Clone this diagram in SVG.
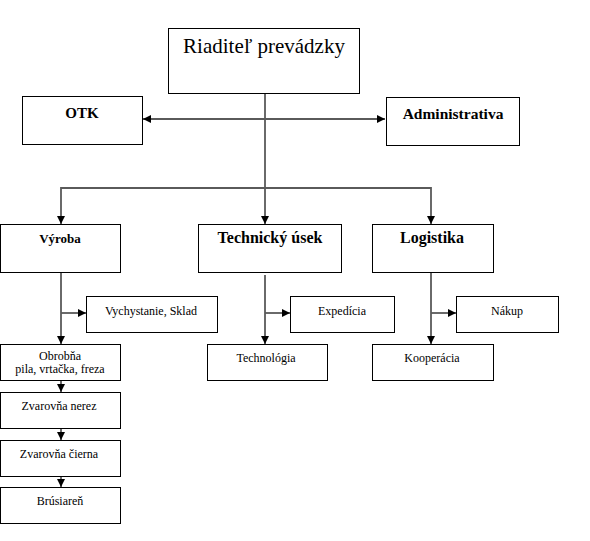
<svg xmlns="http://www.w3.org/2000/svg" width="590" height="541" viewBox="0 0 590 541" font-family="Liberation Serif, serif">
<style>
.box{fill:#fff;stroke:#000;stroke-width:1}
.t{fill:#000;text-anchor:middle}
.b{font-weight:bold}
.s{font-size:12px}
.c{fill:none;stroke:#5a5a5a;stroke-width:1.8}
</style>
<defs>
<marker id="ah" markerUnits="userSpaceOnUse" markerWidth="8" markerHeight="8" refX="8" refY="4" orient="auto-start-reverse">
<path d="M0,0 L8,4 L0,8 z" fill="#000"/>
</marker>
</defs>
<rect width="590" height="541" fill="#fff"/>
<g id="connectors">
<line class="c" x1="265" y1="93" x2="265" y2="224" marker-end="url(#ah)"/>
<line class="c" x1="143" y1="119" x2="385" y2="119" marker-start="url(#ah)" marker-end="url(#ah)"/>
<polyline class="c" points="61,224 61,188 431,188 431,224" marker-start="url(#ah)" marker-end="url(#ah)"/>
<line class="c" x1="61" y1="272" x2="61" y2="344" marker-end="url(#ah)"/>
<line class="c" x1="61" y1="313" x2="86" y2="313" marker-end="url(#ah)"/>
<line class="c" x1="61" y1="380" x2="61" y2="392" marker-end="url(#ah)"/>
<line class="c" x1="61" y1="428" x2="61" y2="440" marker-end="url(#ah)"/>
<line class="c" x1="61" y1="476" x2="61" y2="487" marker-end="url(#ah)"/>
<line class="c" x1="265" y1="275" x2="265" y2="344" marker-end="url(#ah)"/>
<line class="c" x1="265" y1="313" x2="290" y2="313" marker-end="url(#ah)"/>
<line class="c" x1="431" y1="272" x2="431" y2="344" marker-end="url(#ah)"/>
<line class="c" x1="431" y1="313" x2="456" y2="313" marker-end="url(#ah)"/>
</g>
<g id="riaditel"><rect class="box" x="168.5" y="28.5" width="191" height="65"/><text class="t" x="264" y="53" font-size="21" font-family="Liberation Serif, serif">Riaditeľ prevádzky</text></g>
<g id="otk"><rect class="box" x="22.5" y="96.5" width="120" height="48"/><text class="t b" x="82" y="118" font-size="15" font-family="Liberation Serif, serif">OTK</text></g>
<g id="administrativa"><rect class="box" x="386.5" y="97.5" width="133" height="48"/><text class="t b" x="453" y="119" font-size="15.5" font-family="Liberation Serif, serif">Administrativa</text></g>
<g id="vyroba"><rect class="box" x="0.5" y="224.5" width="120" height="48"/><text class="t b" x="60" y="243" font-size="13" font-family="Liberation Serif, serif">Výroba</text></g>
<g id="technicky"><rect class="box" x="198.5" y="224.5" width="143" height="48"/><text class="t b" x="270" y="243" font-size="16" font-family="Liberation Serif, serif">Technický úsek</text></g>
<g id="logistika"><rect class="box" x="372.5" y="224.5" width="121" height="48"/><text class="t b" x="432" y="243" font-size="16" font-family="Liberation Serif, serif">Logistika</text></g>
<g id="vychystanie"><rect class="box" x="86.5" y="296.5" width="131" height="36"/><text class="t s" x="151" y="315" font-family="Liberation Serif, serif">Vychystanie, Sklad</text></g>
<g id="expedicia"><rect class="box" x="290.5" y="296.5" width="104" height="36"/><text class="t s" x="342" y="315" font-family="Liberation Serif, serif">Expedícia</text></g>
<g id="nakup"><rect class="box" x="456.5" y="296.5" width="102" height="36"/><text class="t s" x="507" y="315" font-family="Liberation Serif, serif">Nákup</text></g>
<g id="obrobna"><rect class="box" x="0.5" y="344.5" width="120" height="36"/><text class="t s" x="60" y="360" font-family="Liberation Serif, serif">Obrobňa</text><text class="t s" x="60" y="373" font-family="Liberation Serif, serif">pila, vrtačka, freza</text></g>
<g id="technologia"><rect class="box" x="207.5" y="344.5" width="120" height="36"/><text class="t s" x="266" y="362" font-family="Liberation Serif, serif">Technológia</text></g>
<g id="kooperacia"><rect class="box" x="372.5" y="344.5" width="121" height="36"/><text class="t s" x="432" y="362" font-family="Liberation Serif, serif">Kooperácia</text></g>
<g id="zvarovna-nerez"><rect class="box" x="0.5" y="392.5" width="120" height="36"/><text class="t s" x="59" y="410" font-family="Liberation Serif, serif">Zvarovňa nerez</text></g>
<g id="zvarovna-cierna"><rect class="box" x="0.5" y="440.5" width="120" height="36"/><text class="t s" x="59" y="458" font-family="Liberation Serif, serif">Zvarovňa čierna</text></g>
<g id="brusiaren"><rect class="box" x="0.5" y="487.5" width="120" height="36"/><text class="t s" x="60" y="505" font-family="Liberation Serif, serif">Brúsiareň</text></g>
</svg>
